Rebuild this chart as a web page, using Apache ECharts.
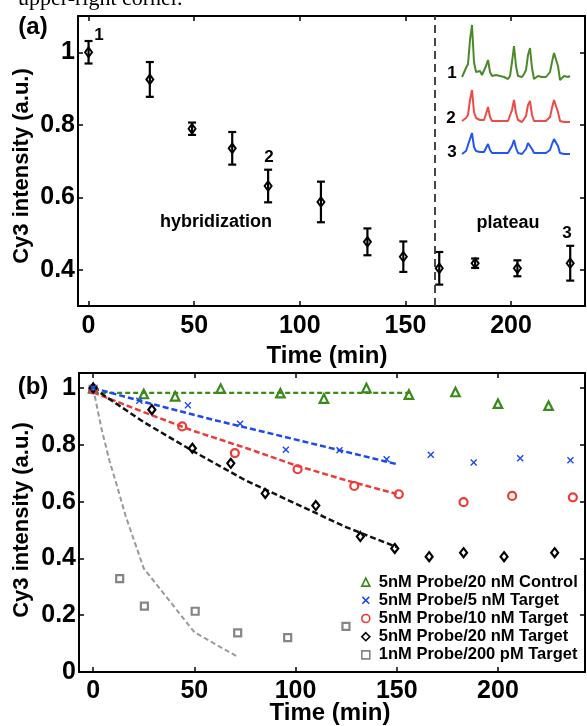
<!DOCTYPE html>
<html lang="en">
<head>
<meta charset="UTF-8">
<title>Cy3 intensity vs time</title>
<style>
    *{
        margin: 0;
        padding: 0;
    }
    body{
        background-color: #fff;
    }
    #chart{
        width: 587px;
        height: 726px;
    }
</style>
</head>
<body>
<div id="chart"></div>
<script src="https://cdn.jsdelivr.net/npm/echarts@6/dist/echarts.min.js"></script>
<script type="text/javascript">
    var FONT = '"Liberation Sans", Arial, sans-serif'

    // ---- panel (a) ----
    var timeA = [0, 29, 49, 68, 85, 110, 132, 149, 166, 183, 203, 228]
    var intA  = [1.0, 0.925, 0.789, 0.735, 0.631, 0.587, 0.477, 0.436, 0.404, 0.418, 0.404, 0.418]
    var errA  = [0.031, 0.048, 0.017, 0.045, 0.045, 0.056, 0.037, 0.042, 0.045, 0.013, 0.022, 0.048]
    var plateauStart = 164
    var xTicksA = [0, 50, 100, 150, 200]
    var yTicksA = [0.4, 0.6, 0.8, 1]

    // inset traces (arbitrary intensity, one sample per step)
    var trace1 = [1, 2, 10, 14, 38, 53, 16, 6, 8, 7, 3, 4, 12, 18, 6, 2, 4, 3, 1, 2, 0, 1, -1, -1, 2, 16, 32, 12, 2, 3,
                  1, 4, 8, 23, 30, 10, -1, 1, 2, 0, 1, -1, 1, 2, 6, 16, 25, 26, 12, -2, -3, 2, 3, 1, 2]
    var trace2 = [1, 0, 4, 7, 22, 32, 10, 4, 3, 2, 1, 2, 8, 15, 5, 1, 2, 1, 0, 1, 0, 1, 0, 1, 2, 12, 22, 9, 2, 1,
                  0, 2, 6, 17, 21, 7, 1, 0, 1, 0, 1, 0, 1, 2, 5, 14, 22, 23, 10, 1, 0, 0, 1, 0, 0]
    var trace3 = [0, 1, 3, 5, 15, 21, 7, 3, 4, 2, 1, 2, 6, 10, 4, 1, 2, 1, 0, 1, 0, 1, 0, 1, 2, 8, 14, 6, 1, 2,
                  0, 1, 5, 11, 13, 5, 1, 0, 1, 0, 1, 0, 1, 1, 4, 10, 15, 16, 8, 1, 0, 0, 1, 0, 0]

    // ---- panel (b) ----
    var tControl = [0, 25, 40.5, 63, 92.5, 114, 135, 156, 179, 200, 225]
    var yControl = [1.0, 0.979, 0.971, 0.998, 0.982, 0.963, 1.0, 0.977, 0.986, 0.945, 0.938]
    var t5 = [0, 22.8, 46.8, 72.6, 95.2, 121.7, 145, 166.8, 188, 211, 235.8]
    var y5 = [1.0, 0.955, 0.939, 0.874, 0.783, 0.781, 0.749, 0.765, 0.738, 0.753, 0.746]
    var t10 = [0, 44, 70, 101, 129, 151, 183, 207, 237]
    var y10 = [0.995, 0.865, 0.771, 0.714, 0.655, 0.626, 0.598, 0.620, 0.615]
    var t20 = [0, 29, 49, 68, 85, 110, 132, 149, 166, 183, 203, 228]
    var y20 = [1.0, 0.924, 0.788, 0.735, 0.629, 0.586, 0.477, 0.435, 0.406, 0.42, 0.406, 0.42]
    var t200 = [0, 13.1, 25.3, 50.4, 71.4, 96.1, 124.9]
    var y200 = [0.995, 0.329, 0.232, 0.214, 0.138, 0.121, 0.161]

    // dashed fits
    var fitControlT = [0, 157]
    var fitControlY = [0.983, 0.983]
    var fit5T = [0, 30, 60, 90, 120, 150]
    var fit5Y = [1.0, 0.942, 0.887, 0.836, 0.784, 0.732]
    var fit10T = [0, 25, 50, 75, 100, 125, 150]
    var fit10Y = [0.985, 0.915, 0.848, 0.79, 0.728, 0.675, 0.627]
    var fit20T = [0, 25, 50, 75, 100, 125, 150]
    var fit20Y = [1.0, 0.88, 0.775, 0.676, 0.593, 0.51, 0.44]
    var fit200T = [0, 2, 4, 8, 12, 16, 25, 50, 71]
    var fit200Y = [1.0, 0.93, 0.86, 0.745, 0.65, 0.55, 0.365, 0.14, 0.055]

    var xTicksB = [0, 50, 100, 150, 200]
    var yTicksB = [0, 0.2, 0.4, 0.6, 0.8, 1]

    var names = ['5nM Probe/20 nM Control', '5nM Probe/5 nM Target', '5nM Probe/10 nM Target',
                 '5nM Probe/20 nM Target', '1nM Probe/200 pM Target']

    var GREEN = '#3a8a1a', BLUE = '#1c4af0', RED = '#ec3c38', BLACK = '#000', GRAY = '#858585'

    function pairs(xs, ys) {
        return xs.map(function (x, i) { return [x, ys[i]] })
    }

    // four-sided box with inward ticks, like matlab
    function boxX(grid, min, max, ticks, labelMargin) {
        var base = {
            type: 'value', gridIndex: grid, min: min, max: max,
            axisLine: {show: true, onZero: false, lineStyle: {color: '#000', width: 2}},
            axisTick: {show: true, inside: true, length: 5, customValues: ticks, lineStyle: {color: '#000', width: 1.5}},
            splitLine: {show: false}
        }
        var bottom = Object.assign({}, base, {
            position: 'bottom',
            axisLabel: {customValues: ticks, color: '#000', fontFamily: FONT, fontWeight: 'bold', fontSize: 25, margin: labelMargin}
        })
        var top = Object.assign({}, base, {position: 'top', axisLabel: {show: false}})
        return [bottom, top]
    }
    function boxY(grid, min, max, ticks) {
        var base = {
            type: 'value', gridIndex: grid, min: min, max: max,
            axisLine: {show: true, onZero: false, lineStyle: {color: '#000', width: 2}},
            axisTick: {show: true, inside: true, length: 5, customValues: ticks, lineStyle: {color: '#000', width: 1.5}},
            splitLine: {show: false}
        }
        var left = Object.assign({}, base, {
            position: 'left',
            axisLabel: {customValues: ticks, color: '#000', fontFamily: FONT, fontWeight: 'bold', fontSize: 25, margin: 3}
        })
        var right = Object.assign({}, base, {position: 'right', axisLabel: {show: false}})
        return [left, right]
    }
    function hiddenAxis(grid, type, extra) {
        return Object.assign({type: type, gridIndex: grid, show: false}, extra)
    }

    var traceCats = trace1.map(function (v, i) { return i })

    // axis index: 0,1 -> panel a, 2,3 -> panel b, 4..6 -> inset traces
    var xAxes = boxX(0, -5, 235, xTicksA, 8).concat(boxX(1, -7, 243, xTicksB, 7))
    var yAxes = boxY(0, 0.3, 1.1, yTicksA).concat(boxY(1, 0, 1.053, yTicksB))
    for (var g = 2; g <= 4; g++) {
        xAxes.push(hiddenAxis(g, 'category', {data: traceCats, boundaryGap: false}))
        yAxes.push(hiddenAxis(g, 'value', {min: -5, max: 55}))
    }

    function renderErr(params, api) {
        var x = api.value(0), y = api.value(1), e = api.value(2)
        var hi = api.coord([x, y + e])
        var lo = api.coord([x, y - e])
        var w = 4
        var st = {stroke: '#000', lineWidth: 2.2}
        return {
            type: 'group',
            children: [
                {type: 'line', shape: {x1: hi[0], y1: hi[1], x2: lo[0], y2: lo[1]}, style: st},
                {type: 'line', shape: {x1: hi[0] - w, y1: hi[1], x2: hi[0] + w, y2: hi[1]}, style: st},
                {type: 'line', shape: {x1: lo[0] - w, y1: lo[1], x2: lo[0] + w, y2: lo[1]}, style: st}
            ]
        }
    }

    function fitLine(name, xs, ys, color, width, dash) {
        return {
            name: name, type: 'line', xAxisIndex: 2, yAxisIndex: 2,
            data: pairs(xs, ys), symbol: 'none', silent: true,
            lineStyle: {color: color, width: width, type: dash}
        }
    }
    function dots(name, xs, ys, symbol, size, color, hollow) {
        return {
            name: name, type: 'scatter', xAxisIndex: 2, yAxisIndex: 2,
            data: pairs(xs, ys), symbol: symbol, symbolSize: size,
            itemStyle: hollow
                ? {color: 'rgba(0,0,0,0)', borderColor: color, borderWidth: 2.2, opacity: 1}
                : {color: color, opacity: 1},
            z: 3
        }
    }
    function trace(idx, values, color) {
        return {
            type: 'line', xAxisIndex: idx, yAxisIndex: idx, data: values,
            symbol: 'none', silent: true, lineStyle: {color: color, width: 2}
        }
    }

    var CROSS = 'path://M0,1.4L1.4,0L5,3.6L8.6,0L10,1.4L6.4,5L10,8.6L8.6,10L5,6.4L1.4,10L0,8.6L3.6,5Z'

    var series = [
        {
            type: 'custom', xAxisIndex: 0, yAxisIndex: 0,
            renderItem: renderErr, encode: {x: 0, y: 1},
            data: timeA.map(function (t, i) { return [t, intA[i], errA[i]] }),
            markLine: {
                silent: true, symbol: 'none', label: {show: false},
                lineStyle: {color: '#333', width: 1.8, type: [8, 5]},
                data: [{xAxis: plateauStart}]
            }
        },
        {
            type: 'scatter', xAxisIndex: 0, yAxisIndex: 0,
            data: pairs(timeA, intA), symbol: 'diamond', symbolSize: [7, 9.5],
            itemStyle: {color: 'rgba(0,0,0,0)', borderColor: '#000', borderWidth: 2, opacity: 1}, z: 3
        },
        trace(4, trace1, '#4a8a2a'),
        trace(5, trace2, '#ee4a46'),
        trace(6, trace3, '#2157f0'),

        fitLine('fitControl', fitControlT, fitControlY, GREEN, 2.2, [5, 3]),
        fitLine('fit5', fit5T, fit5Y, BLUE, 2.5, [6, 3]),
        fitLine('fit10', fit10T, fit10Y, RED, 2.5, [6, 3]),
        fitLine('fit20', fit20T, fit20Y, '#111', 2.5, [6, 3]),
        fitLine('fit200', fit200T, fit200Y, '#999', 2, [5, 3]),

        dots(names[4], t200, y200, 'rect', 7, GRAY, true),
        dots(names[0], tControl, yControl, 'triangle', 8.5, GREEN, true),
        dots(names[2], t10, y10, 'circle', 8, RED, true),
        dots(names[3], t20, y20, 'diamond', [7, 9], BLACK, true),
        dots(names[1], t5, y5, CROSS, 7, BLUE, false)
    ]

    function label(text, x, y, size, extra) {
        return Object.assign({
            type: 'text', x: x, y: y, silent: true,
            style: {
                text: text, fill: '#000', align: 'center', verticalAlign: 'middle',
                font: 'bold ' + size + 'px ' + FONT
            }
        }, extra || {})
    }

    var option = {
        animation: false,
        backgroundColor: '#fff',
        grid: [
            {left: 78, top: 16, width: 507, height: 290},
            {left: 79, top: 373, width: 506, height: 299},
            {left: 462, top: 23, width: 108, height: 60},
            {left: 462, top: 67, width: 108, height: 60},
            {left: 462, top: 99, width: 108, height: 60}
        ],
        xAxis: xAxes,
        yAxis: yAxes,
        legend: {
            data: names,
            orient: 'vertical', left: 361, top: 573, padding: 0, itemGap: 0,
            itemWidth: 8, itemHeight: 8,
            itemStyle: {borderWidth: 1.6},
            textStyle: {color: '#000', fontFamily: FONT, fontWeight: 'bold', fontSize: 16.5, lineHeight: 18.2, padding: [0, 0, 0, 4]}
        },
        series: series,
        graphic: [
            {
                type: 'text', x: 18, y: -1, silent: true,
                style: {text: 'upper-right corner.', fill: '#000', verticalAlign: 'middle', font: '22px "Liberation Serif", serif'}
            },
            label('(a)', 33, 27, 24),
            label('(b)', 33, 387, 24),
            label('1', 99, 35, 17),
            label('2', 269, 157, 17),
            label('3', 567, 233, 17),
            label('hybridization', 216, 222, 18),
            label('plateau', 508, 223, 18),
            label('1', 452, 73, 17),
            label('2', 451, 118, 17),
            label('3', 452, 152, 17),
            label('Cy3 intensity (a.u.)', 22, 166, 22, {rotation: Math.PI / 2}),
            label('Cy3 intensity (a.u.)', 22, 520, 22, {rotation: Math.PI / 2}),
            label('Time (min)', 327, 356, 24),
            label('Time (min)', 330, 713, 24)
        ]
    }

    var chart = echarts.init(document.getElementById('chart'))
    chart.setOption(option)
</script>
</body>
</html>
